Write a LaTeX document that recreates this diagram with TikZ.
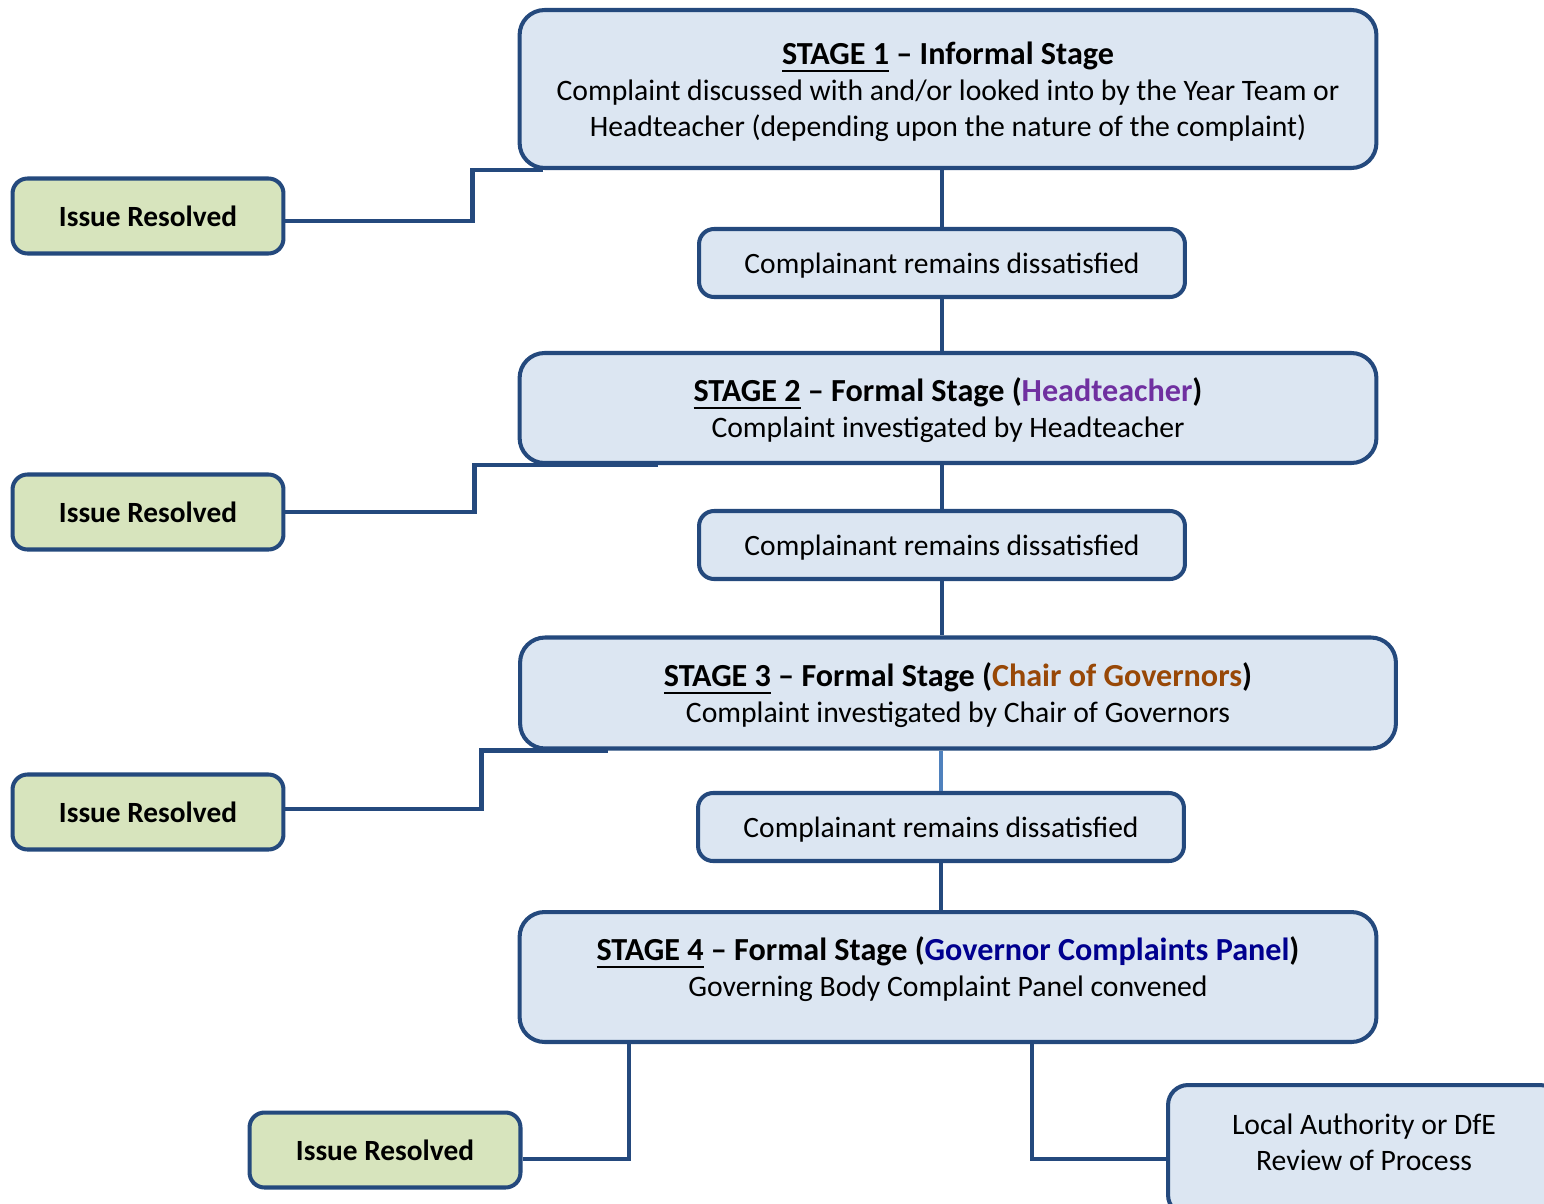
\documentclass[tikz,border=0pt]{standalone}
\usepackage{fontspec}
\setmainfont{Carlito}
\usepackage{xcolor}
\usepackage{tikz}
\usetikzlibrary{positioning,calc}

\definecolor{lineblue}{HTML}{24497D}
\definecolor{lightline}{HTML}{4F81BD}
\definecolor{stagefill}{HTML}{DCE6F2}
\definecolor{resfill}{HTML}{D7E4BD}
\definecolor{headcol}{HTML}{7030A0}
\definecolor{chaircol}{HTML}{984807}
\definecolor{panelcol}{HTML}{00008F}

\newcommand{\stagetitle}[1]{{\fontsize{18.3}{21.5}\selectfont\bfseries #1}}
% thick underline for the stage number
\newcommand{\stageul}[1]{\setbox0\hbox{#1}\rlap{\rule[-0.16cm]{\wd0}{1.4pt}}\box0\relax}
% text block with extra room above (#1) and below (#2)
\newcommand{\padtext}[3]{\raisebox{0pt}[\dimexpr\height+#1\relax][\dimexpr\depth+#2\relax]{\begin{tabular}{@{}c@{}}#3\end{tabular}}}

\tikzset{
    stagebox/.style={draw=lineblue, line width=2.3pt, fill=stagefill, rounded corners=0.5cm,
        align=center, minimum width=17.14cm, inner sep=0pt,
        font=\fontsize{16.9}{20.5}\selectfont},
    dissbox/.style={draw=lineblue, line width=2.3pt, fill=stagefill, rounded corners=0.3cm,
        align=center, minimum width=9.72cm, minimum height=1.36cm,
        font=\fontsize{16.8}{20.5}\selectfont},
    resbox/.style={draw=lineblue, line width=2.3pt, fill=resfill, rounded corners=0.3cm,
        align=center, minimum width=5.42cm, minimum height=1.5cm,
        font=\fontsize{16.7}{20.5}\selectfont\bfseries},
    link/.style={draw=lineblue, line width=2.3pt}
}

\begin{document}
\begin{tikzpicture}[x=0.02cm, y=-0.02cm]
    \useasboundingbox (0,0) rectangle (1544,1203);

    % Stages
    \node [stagebox, minimum height=3.16cm] (s1) at (948,89)
        {\padtext{0.16cm}{0pt}{\stagetitle{\stageul{STAGE 1} -- Informal Stage}\\
         Complaint discussed with and/or looked into by the Year Team or\\
         Headteacher (depending upon the nature of the complaint)}};
    \node [stagebox, minimum height=2.2cm] (s2) at (948,408)
        {\padtext{0.16cm}{0pt}{\stagetitle{\stageul{STAGE 2} -- Formal Stage (\textcolor{headcol}{Headteacher})}\\
         Complaint investigated by Headteacher}};
    \node [stagebox, minimum height=2.22cm, minimum width=17.52cm] (s3) at (958,693)
        {\padtext{0.16cm}{0pt}{\stagetitle{\stageul{STAGE 3} -- Formal Stage (\textcolor{chaircol}{Chair of Governors})}\\
         Complaint investigated by Chair of Governors}};
    \node [stagebox, minimum height=2.6cm] (s4) at (948,977)
        {\padtext{0pt}{0.24cm}{\stagetitle{\stageul{STAGE 4} -- Formal Stage (\textcolor{panelcol}{Governor Complaints Panel})}\\
         Governing Body Complaint Panel convened}};

    % Dissatisfied
    \node [dissbox] (d1) at (942,263) {\padtext{0.12cm}{0pt}{Complainant remains dissatisfied}};
    \node [dissbox] (d2) at (942,545) {\padtext{0.12cm}{0pt}{Complainant remains dissatisfied}};
    \node [dissbox] (d3) at (941,827) {\padtext{0.12cm}{0pt}{Complainant remains dissatisfied}};

    % Resolved
    \node [resbox] (r1) at (148,216) {Issue Resolved};
    \node [resbox] (r2) at (148,512) {Issue Resolved};
    \node [resbox] (r3) at (148,812) {Issue Resolved};
    \node [resbox] (r4) at (385,1150) {Issue Resolved};

    % Review
    \node [stagebox, minimum width=7.84cm, minimum height=2.6cm, rounded corners=0.4cm] (la) at (1364,1150)
        {\padtext{0pt}{0.2cm}{Local Authority or DfE\\Review of Process}};

    % Main line
    \draw [link] (s1.south -| d1) -- (d1.north);
    \draw [link] (d1.south) -- (s2.north -| d1);
    \draw [link] (s2.south -| d2) -- (d2.north);
    \draw [link] (d2.south) -- (s3.north -| d2);
    \draw [draw=lightline, line width=2.3pt] (s3.south -| d3) -- (d3.north);
    \draw [link] (d3.south) -- (s4.north -| d3);

    % Branches
    \draw [link] ($(r1.east)+(0,5)$) -- ++(187,0) |- ($(s1.south west)+(25,0)$);
    \draw [link] (r2.east) -- ++(189,0) |- ($(s2.south west)+(140,0)$);
    \draw [link] ($(r3.east)+(0,-3)$) -- ++(196,0) |- ($(s3.south west)+(90,0)$);
    \draw [link] ($(s4.south west)+(111,0)$) |- ($(r4.east)+(0,9)$);
    \draw [link] ($(s4.south west)+(514,0)$) |- ($(la.west)+(0,9)$);
\end{tikzpicture}
\end{document}
